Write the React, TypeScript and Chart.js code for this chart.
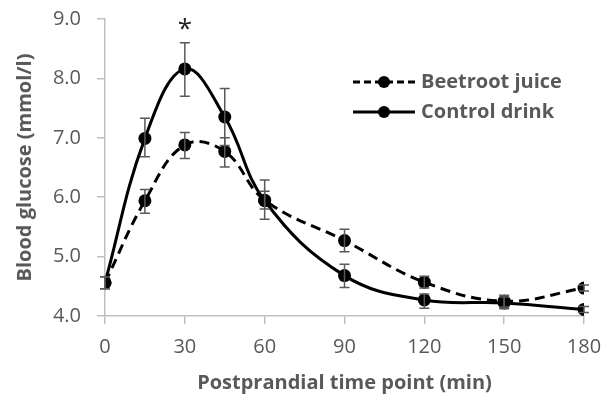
import React, { useEffect, useRef } from "react";
import { Chart, registerables } from "chart.js";

Chart.register(...registerables);

const timePoints = [0, 15, 30, 45, 60, 90, 120, 150, 180];
const beetrootMean = [4.56, 5.94, 6.88, 6.77, 5.95, 5.27, 4.57, 4.25, 4.47];
const beetrootUpper = [4.66, 6.13, 7.09, 7.0, 6.1, 5.46, 4.67, 4.35, 4.52];
const beetrootLower = [4.46, 5.73, 6.65, 6.51, 5.8, 5.08, 4.47, 4.15, 4.42];
const controlMean = [4.56, 6.99, 8.16, 7.35, 5.94, 4.68, 4.27, 4.22, 4.11];
const controlUpper = [4.66, 7.33, 8.6, 7.83, 6.29, 4.87, 4.37, 4.32, 4.16];
const controlLower = [4.46, 6.68, 7.7, 6.87, 5.63, 4.48, 4.13, 4.12, 4.06];
const xTicks = [0, 30, 60, 90, 120, 150, 180];
const seriesNames = ["Beetroot juice", "Control drink"];
const significantAt = [30];

const FONT = "'Open Sans', 'Noto Sans', sans-serif";
const GRAY = "#595959";

const errorBarPlugin = {
  id: "errorBars",
  afterDatasetsDraw(chart: any) {
    const { ctx, scales } = chart;
    const xs = scales.x;
    const ys = scales.y;
    ctx.save();
    ctx.strokeStyle = GRAY;
    ctx.lineWidth = 1.5;
    const sets = [
      [beetrootUpper, beetrootLower],
      [controlUpper, controlLower],
    ];
    sets.forEach(([up, lo]) => {
      timePoints.forEach((t, i) => {
        const x = xs.getPixelForValue(t);
        const y1 = ys.getPixelForValue(up[i]);
        const y2 = ys.getPixelForValue(lo[i]);
        ctx.beginPath();
        ctx.moveTo(x, y1);
        ctx.lineTo(x, y2);
        ctx.moveTo(x - 5, y1);
        ctx.lineTo(x + 5, y1);
        ctx.moveTo(x - 5, y2);
        ctx.lineTo(x + 5, y2);
        ctx.stroke();
      });
    });
    // significance asterisk
    ctx.fillStyle = "#222";
    ctx.font = `26px ${FONT}`;
    ctx.textAlign = "center";
    ctx.textBaseline = "middle";
    significantAt.forEach((t) => {
      const x = xs.getPixelForValue(t);
      ctx.fillText("*", x, 30);
    });
    // legend
    const rows = [
      { name: seriesNames[0], dash: [7, 4] },
      { name: seriesNames[1], dash: [] as number[] },
    ];
    rows.forEach((r, k) => {
      const y = 82 + k * 30;
      ctx.strokeStyle = "#000";
      ctx.lineWidth = 3;
      ctx.setLineDash(r.dash);
      ctx.beginPath();
      ctx.moveTo(353, y);
      ctx.lineTo(415, y);
      ctx.stroke();
      ctx.setLineDash([]);
      ctx.fillStyle = "#000";
      ctx.beginPath();
      ctx.arc(384, y, 6, 0, Math.PI * 2);
      ctx.fill();
      ctx.fillStyle = GRAY;
      ctx.font = `bold 20px ${FONT}`;
      ctx.textAlign = "left";
      ctx.textBaseline = "middle";
      ctx.fillText(r.name, 421, y);
    });
    ctx.restore();
  },
};

export default function App() {
  const ref = useRef<HTMLCanvasElement>(null);
  useEffect(() => {
    const canvas = ref.current!;
    const chart = new Chart(canvas, {
      type: "line",
      data: {
        datasets: [
          {
            label: seriesNames[0],
            data: timePoints.map((t, i) => ({ x: t, y: beetrootMean[i] })),
            borderColor: "#000",
            backgroundColor: "#000",
            borderWidth: 3,
            borderDash: [10, 6],
            pointRadius: 6.5,
            pointBackgroundColor: "#000",
            pointBorderWidth: 0,
            tension: 0.4,
          },
          {
            label: seriesNames[1],
            data: timePoints.map((t, i) => ({ x: t, y: controlMean[i] })),
            borderColor: "#000",
            backgroundColor: "#000",
            borderWidth: 3,
            pointRadius: 6.5,
            pointBackgroundColor: "#000",
            pointBorderWidth: 0,
            tension: 0.4,
          },
        ],
      },
      options: {
        animation: false,
        responsive: false,
        maintainAspectRatio: false,
        layout: { padding: { top: 19, right: 19, left: 0, bottom: 0 } },
        plugins: { legend: { display: false }, tooltip: { enabled: false } },
        scales: {
          x: {
            type: "linear",
            min: 0,
            max: 180,
            afterBuildTicks: (s: any) => {
              s.ticks = xTicks.map((v) => ({ value: v }));
            },
            afterFit: (s: any) => {
              s.height = 80;
              s.paddingLeft = 0;
              s.paddingRight = 0;
            },
            grid: {
              display: true,
              drawOnChartArea: false,
              drawTicks: true,
              tickLength: 8,
              color: "#bfbfbf",
              lineWidth: 1.5,
            },
            border: { color: "#bfbfbf", width: 1.5 },
            ticks: {
              color: GRAY,
              font: { family: FONT, size: 20 },
              padding: 11,
              maxRotation: 0,
            },
            title: {
              display: true,
              text: "Postprandial time point (min)",
              color: GRAY,
              font: { family: FONT, size: 20, weight: "bold" },
              padding: { top: 0, bottom: 1 },
            },
          },
          y: {
            type: "linear",
            min: 4,
            max: 9,
            afterFit: (s: any) => {
              s.width = 105;
              s.paddingTop = 0;
              s.paddingBottom = 0;
            },
            grid: {
              display: true,
              drawOnChartArea: false,
              drawTicks: true,
              tickLength: 8,
              color: "#bfbfbf",
              lineWidth: 1.5,
            },
            border: { color: "#bfbfbf", width: 1.5 },
            ticks: {
              stepSize: 1,
              color: GRAY,
              font: { family: FONT, size: 20 },
              padding: 16,
              callback: (v: any) => Number(v).toFixed(1),
            },
            title: {
              display: true,
              text: "Blood glucose (mmol/l)",
              color: GRAY,
              font: { family: FONT, size: 20, weight: "bold" },
              padding: { top: 13, bottom: 0 },
            },
          },
        },
      },
      plugins: [errorBarPlugin],
    } as any);
    return () => chart.destroy();
  }, []);
  return (
    <div style={{ position: "fixed", left: 0, top: 0, width: 603, height: 396, background: "#fff" }}>
      <canvas ref={ref} width={603} height={396} style={{ display: "block" }} />
    </div>
  );
}
